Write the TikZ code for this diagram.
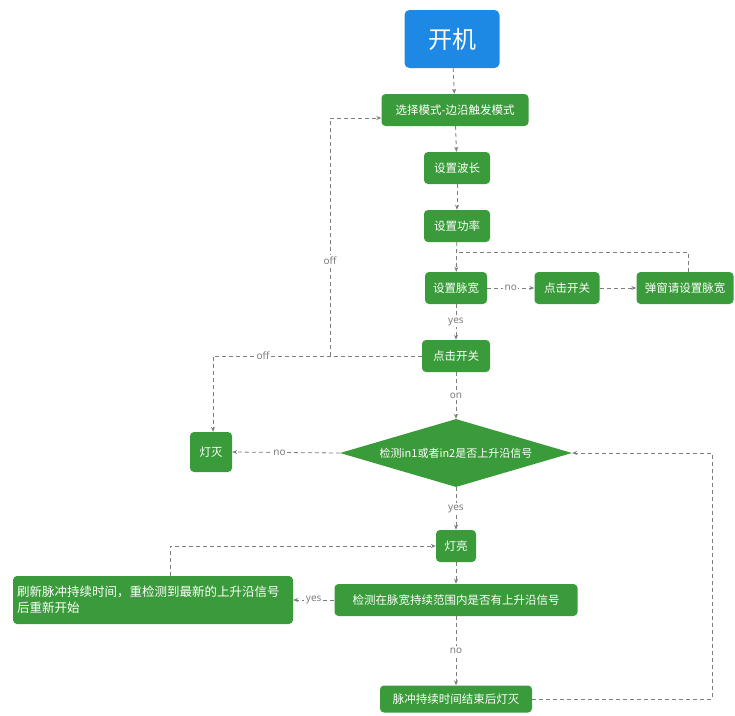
\documentclass[tikz,border=0pt]{standalone}
\usepackage{fontspec}
\setmainfont{Noto Sans}
\newfontfamily\cjk{Noto Sans CJK SC}
\usetikzlibrary{arrows.meta,shapes.geometric}
\definecolor{stepgreen}{RGB}{58,155,58}
\definecolor{startblue}{RGB}{30,136,229}
\definecolor{linkgray}{RGB}{125,125,125}
\tikzset{
  stepbox/.style={rectangle, rounded corners=4pt, fill=stepgreen, text=white,
    font=\cjk\fontsize{11.5}{14}\selectfont, minimum height=32pt, inner sep=3pt},
  startbox/.style={rectangle, rounded corners=5pt, fill=startblue, text=white,
    font=\cjk\fontsize{24}{28}\selectfont, minimum width=95pt, minimum height=58pt},
  decision/.style={diamond, fill=stepgreen, text=white, shape aspect=3.4,
    font=\cjk\fontsize{11}{13}\selectfont, minimum width=232pt, minimum height=68pt, inner sep=0pt},
  wire/.style={draw=linkgray, line width=0.8pt, dash pattern=on 4pt off 3pt},
  link/.style={wire, -{Stealth[length=5pt,width=4pt]}},
  lbl/.style={fill=white, text=linkgray, font=\fontsize{10}{12}\selectfont, inner sep=1.5pt}
}
\begin{document}
\begin{tikzpicture}[x=1pt,y=-1pt]
\useasboundingbox (0,0) rectangle (735,715);

% main column
\node[startbox] (start) at (452,39) {开机};
\node[stepbox, minimum width=147pt] (mode) at (455,110) {选择模式-边沿触发模式};
\node[stepbox, minimum width=66pt] (wave) at (457,168) {设置波长};
\node[stepbox, minimum width=66pt] (power) at (457,226) {设置功率};
\node[stepbox, minimum width=62pt] (width) at (456,288) {设置脉宽};
\node[stepbox, minimum width=65pt] (click1) at (567,288) {点击开关};
\node[stepbox, minimum width=97pt] (popup) at (685,288) {弹窗请设置脉宽};
\node[stepbox, minimum width=68pt] (click2) at (456,356) {点击开关};
\node[decision] (detect) at (456,453) {检测in1或者in2是否上升沿信号};
\node[stepbox, minimum width=42pt, minimum height=40pt] (off) at (211,452) {灯灭};
\node[stepbox, minimum width=40pt] (on) at (456,546) {灯亮};
\node[stepbox, minimum width=243pt] (inwin) at (456,600) {检测在脉宽持续范围内是否有上升沿信号};
\node[stepbox, minimum width=280pt, minimum height=48pt, align=left, text width=272pt,
  font=\cjk\fontsize{12.5}{16}\selectfont]
  (refresh) at (153,600) {刷新脉冲持续时间，重检测到最新的上升沿信号\\后重新开始};
\node[stepbox, minimum width=152pt, minimum height=27pt] (endoff) at (456,699) {脉冲持续时间结束后灯灭};

% bend points
\coordinate (popupup) at (688,252);
\coordinate (offsplit) at (330,356);
\coordinate (offcorner) at (213,356);
\coordinate (backR) at (712,699);
\coordinate (refup) at (170,546);

% straight flow
\draw[link] (start) -- (mode);
\draw[link] (mode) -- (wave);
\draw[link] (wave) -- (power);
\draw[link] (power) -- (width);
\draw[link] (width) -- node[lbl] {no} (click1);
\draw[link] (click1) -- (popup);
% return from the pop-up joins the line above the pulse-width step
\draw[wire] (popup.north -| popupup) -- (popupup) -- (popupup -| width.north);
\draw[link] (width) -- node[lbl] {yes} (click2);
\draw[link] (click2.west) -- node[lbl, pos=0.76] {off} (offcorner) -- (off.north -| offcorner);
\draw[link] (offsplit) -- node[lbl, pos=0.4] {off} (offsplit |- 0,118) -- ([yshift=-8pt]mode.west);
\draw[link] (click2) -- node[lbl] {on} (detect);
\draw[link] (detect.west) -- node[lbl, pos=0.56] {no} (off.east);
\draw[link] (detect) -- node[lbl] {yes} (on);
\draw[link] (on) -- (inwin);
\draw[link] (inwin.west) -- node[lbl] {yes} (refresh.east);
\draw[link] (refresh.north -| refup) -- (refup) -- (on.west);
\draw[link] (inwin) -- node[lbl] {no} (endoff);
\draw[link] (endoff.east) -- (backR) -- (backR |- detect.east) -- (detect.east);
\end{tikzpicture}
\end{document}
